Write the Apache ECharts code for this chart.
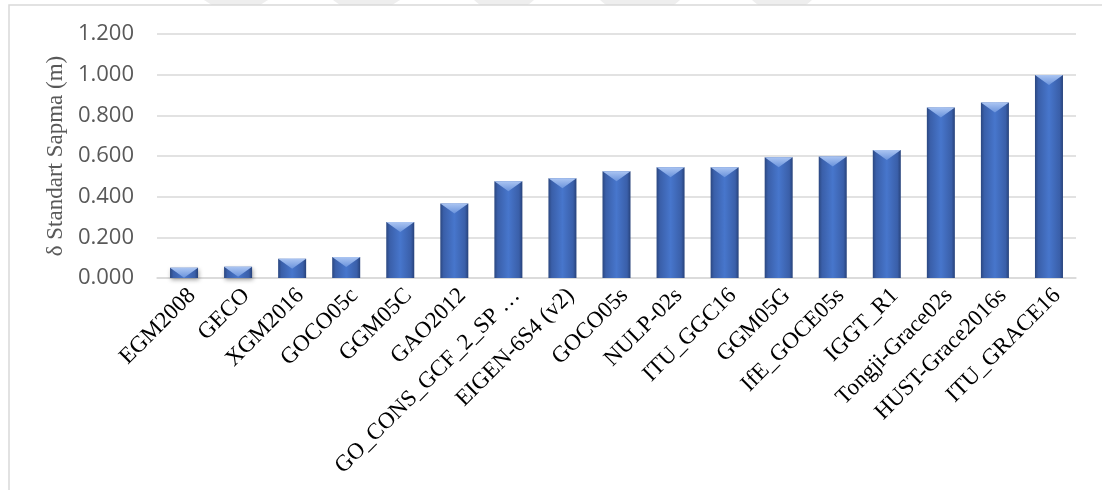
<!DOCTYPE html>
<html>
<head>
<meta charset="utf-8">
<script src="https://cdn.jsdelivr.net/npm/echarts@6/dist/echarts.min.js"></script>
<style>
  html, body { margin: 0; padding: 0; background: #ffffff; }
  #chart { width: 1102px; height: 490px; }
</style>
</head>
<body>
<div id="chart"></div>
<script>
// Gravity field models and their standard deviation (m)
var models = [
  'EGM2008', 'GECO', 'XGM2016', 'GOCO05c', 'GGM05C', 'GAO2012',
  'GO_CONS_GCF_2_SP …', 'EIGEN-6S4 (v2)', 'GOCO05s', 'NULP-02s', 'ITU_GGC16',
  'GGM05G', 'IfE_GOCE05s', 'IGGT_R1', 'Tongji-Grace02s', 'HUST-Grace2016s', 'ITU_GRACE16'
];
var stdDev = [
  0.050, 0.055, 0.095, 0.103, 0.275, 0.367,
  0.476, 0.490, 0.525, 0.545, 0.545,
  0.594, 0.598, 0.629, 0.839, 0.863, 0.998
];
var yMin = 0, yMax = 1.2, yStep = 0.2;

var chart = echarts.init(document.getElementById('chart'));

var barFill = new echarts.graphic.LinearGradient(0, 0, 1, 0, [
  { offset: 0, color: '#2b4780' },
  { offset: 0.12, color: '#3a5fa9' },
  { offset: 0.5, color: '#4776cc' },
  { offset: 0.88, color: '#3a5fa9' },
  { offset: 1, color: '#27427a' }
]);
var bevelFill = new echarts.graphic.LinearGradient(0, 0, 0, 1, [
  { offset: 0, color: '#abc5f2' },
  { offset: 1, color: '#6a93dc' }
]);

chart.setOption({
  animation: false,
  backgroundColor: '#ffffff',
  graphic: [
    // faint header shapes along the top edge
    { type: 'polygon', z: -1, shape: { points: [[204, 0], [268, 0], [260, 5], [212, 5]] }, style: { fill: '#eeeeee' } },
    { type: 'polygon', z: -1, shape: { points: [[333, 0], [400, 0], [392, 5], [340, 5]] }, style: { fill: '#eeeeee' } },
    { type: 'polygon', z: -1, shape: { points: [[474, 0], [534, 0], [528, 5], [480, 5]] }, style: { fill: '#eeeeee' } },
    { type: 'polygon', z: -1, shape: { points: [[600, 0], [680, 0], [674, 5], [606, 5]] }, style: { fill: '#eeeeee' } },
    { type: 'polygon', z: -1, shape: { points: [[752, 0], [812, 0], [806, 5], [758, 5]] }, style: { fill: '#eeeeee' } },
    // chart frame
    { type: 'rect', z: 0, shape: { x: 9, y: 5, width: 1100, height: 500 },
      style: { fill: 'none', stroke: '#d9d9d9', lineWidth: 1.5 } }
  ],
  grid: { left: 157, right: 26, top: 34, bottom: 212, containLabel: false },
  xAxis: {
    type: 'category',
    data: models,
    axisLine: { show: true, lineStyle: { color: '#d9d9d9', width: 1.5 } },
    axisTick: { show: false },
    axisLabel: {
      interval: 0,
      rotate: 45,
      margin: 6,
      verticalAlign: 'top',
      color: '#000000',
      fontFamily: 'Liberation Serif, Times New Roman, serif',
      fontSize: 23
    }
  },
  yAxis: {
    type: 'value',
    min: yMin,
    max: yMax,
    interval: yStep,
    name: 'δ Standart Sapma (m)',
    nameLocation: 'middle',
    nameRotate: 90,
    nameGap: 88,
    nameTextStyle: {
      color: '#595959',
      fontFamily: 'Liberation Serif, Times New Roman, serif',
      fontSize: 23
    },
    axisLine: { show: false },
    axisTick: { show: false },
    splitLine: { lineStyle: { color: '#d9d9d9', width: 1.5 } },
    axisLabel: {
      margin: 23,
      color: '#595959',
      fontFamily: 'Open Sans, sans-serif',
      fontSize: 22
    },
  },
  series: [
    {
      type: 'bar',
      data: stdDev,
      barWidth: 28,
      barGap: '-100%',
      itemStyle: {
        color: barFill,
        shadowBlur: 4,
        shadowColor: 'rgba(0,0,0,0.35)',
        shadowOffsetX: 1,
        shadowOffsetY: 2
      },
      z: 2
    },
    {
      // bevelled cap on top of each bar
      type: 'pictorialBar',
      data: stdDev,
      barWidth: 28,
      barGap: '-100%',
      symbol: 'path://M0,0 L28,0 L14,10 Z',
      symbolSize: [28, 10],
      symbolPosition: 'end',
      itemStyle: { color: bevelFill },
      z: 3
    }
  ]
});
chart.setOption({
  yAxis: { axisLabel: { formatter: function (v) { return v.toFixed(3); } } }
});
</script>
</body>
</html>
